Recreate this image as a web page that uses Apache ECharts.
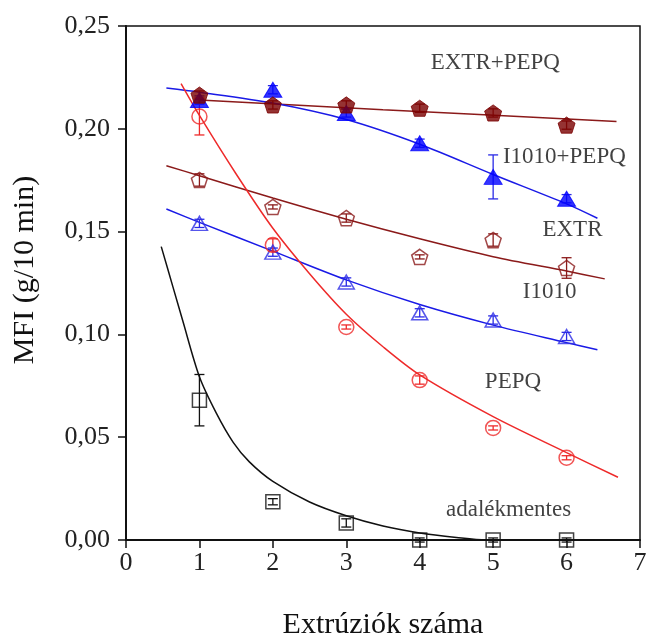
<!DOCTYPE html>
<html>
<head>
<meta charset="utf-8">
<script src="https://cdn.jsdelivr.net/npm/echarts@6/dist/echarts.min.js"></script>
<style>
  html, body { margin: 0; padding: 0; background: #fff; }
  #chart { width: 648px; height: 640px; }
</style>
</head>
<body>
<div id="chart"></div>
<script>
// extrúziók száma
const extrusions = [1, 2, 3, 4, 5, 6];

// mért MFI értékek (g/10 min)
const mfiExtrPepq = [0.2164, 0.2116, 0.2116, 0.2100, 0.2077, 0.2018];
const mfiI1010Pepq = [0.2140, 0.2190, 0.2077, 0.1930, 0.1766, 0.1660];
const mfiExtr = [0.1751, 0.1620, 0.1566, 0.1377, 0.1459, 0.1323];
const mfiI1010 = [0.1540, 0.1400, 0.1255, 0.1105, 0.1070, 0.0990];
const mfiPepq = [0.2060, 0.1435, 0.1036, 0.0778, 0.0545, 0.0400];
const mfiNone = [0.0680, 0.0186, 0.0083, 0.0000, 0.0000, 0.0000];

// hibasávok
const errExtrPepq = [0.002, 0.002, 0.002, 0.002, 0.002, 0.002];
const errI1010Pepq = [0.002, 0.002, 0.002, 0.002, 0.0107, 0.002];
const errExtr = [0.003, 0.001, 0.002, 0.001, 0.003, 0.005];
const errI1010 = [0.002, 0.002, 0.002, 0.002, 0.002, 0.002];
const errPepq = [0.009, 0.003, 0.001, 0.002, 0.001, 0.001];
const errNone = [0.0125, 0.0015, 0.002, 0.001, 0.001, 0.001];

// illesztett görbék (leolvasott pontok)
const fitExtrPepq = [[1, 0.2140], [3.5, 0.2093], [6.68, 0.2035]];
const fitI1010Pepq = [[0.55, 0.2198], [1, 0.2178], [2, 0.2125], [3, 0.2045], [4, 0.1925], [5, 0.1778], [6, 0.1635], [6.42, 0.1565]];
const fitExtr = [[0.55, 0.1820], [1, 0.1772], [2, 0.1663], [3, 0.1560], [4, 0.1465], [5, 0.1378], [6, 0.1308], [6.52, 0.1270]];
const fitI1010 = [[0.55, 0.1610], [1, 0.1545], [2, 0.1405], [3, 0.1265], [4, 0.1145], [5, 0.1045], [6, 0.0960], [6.42, 0.0925]];
const fitPepq = [[0.75, 0.2220], [1, 0.2065], [1.5, 0.1780], [2, 0.1516], [2.5, 0.1295], [3, 0.1098], [3.5, 0.0940], [4, 0.0803], [5, 0.0600], [6, 0.0425], [6.7, 0.0305]];
const fitNone = [[0.48, 0.1427], [0.64, 0.1230], [0.77, 0.1070], [1, 0.0794], [1.23, 0.0617], [1.46, 0.0475], [1.68, 0.0380], [2, 0.0285], [2.5, 0.0185], [3, 0.0118], [3.5, 0.0068], [4, 0.0034], [4.5, 0.0012], [4.9, 0], [6.4, 0]];

// feliratok
const labelNames = ['EXTR+PEPQ', 'I1010+PEPQ', 'EXTR', 'I1010', 'PEPQ', 'adalékmentes'];
const labelX = [5.03, 5.97, 6.08, 5.77, 5.27, 5.21];
const labelY = [0.232, 0.1863, 0.1508, 0.1206, 0.0768, 0.0146];

const SERIF = 'Liberation Serif, Times New Roman, serif';
const PENTAGON = 'path://M50,0 L97.6,34.5 L79.4,90.5 L20.6,90.5 L2.4,34.5 Z';

const chart = echarts.init(document.getElementById('chart'));

function fitSeries(data, color) {
  return {
    type: 'line',
    data: data,
    showSymbol: false,
    smooth: 0.3,
    lineStyle: { color: color, width: 1.5 },
    z: 2,
    silent: true
  };
}

function errSeries(vals, errs, color) {
  return {
    type: 'custom',
    data: extrusions.map((x, i) => [x, vals[i], errs[i]]),
    encode: { x: 0, y: 1 },
    z: 3,
    silent: true,
    renderItem(params, api) {
      const x = api.value(0), y = api.value(1), e = api.value(2);
      const top = api.coord([x, y + e]);
      const bot = api.coord([x, y - e]);
      const w = 5;
      const st = { stroke: color, lineWidth: 1.3 };
      return {
        type: 'group',
        children: [
          { type: 'line', shape: { x1: top[0], y1: top[1], x2: bot[0], y2: bot[1] }, style: st },
          { type: 'line', shape: { x1: top[0] - w, y1: top[1], x2: top[0] + w, y2: top[1] }, style: st },
          { type: 'line', shape: { x1: bot[0] - w, y1: bot[1], x2: bot[0] + w, y2: bot[1] }, style: st }
        ]
      };
    }
  };
}

function markSeries(vals, symbol, size, color, filled) {
  return {
    type: 'scatter',
    data: extrusions.map((x, i) => [x, vals[i]]),
    symbol: symbol,
    symbolSize: size,
    symbolKeepAspect: true,
    itemStyle: filled
      ? { color: color, borderColor: color, borderWidth: 1 }
      : { color: 'rgba(255,255,255,0)', borderColor: color, borderWidth: 1.5 },
    z: 4
  };
}

const option = {
  animation: false,
  backgroundColor: '#fff',
  grid: {
    left: 126, right: 8, top: 26, bottom: 100,
    outerBoundsMode: 'none',
    containLabel: false,
    show: true, borderColor: '#111', borderWidth: 1.5
  },
  xAxis: {
    type: 'value',
    min: 0, max: 7, interval: 1,
    name: 'Extrúziók száma',
    nameLocation: 'middle',
    nameGap: 70,
    nameTextStyle: { fontFamily: SERIF, fontSize: 30, color: '#111' },
    axisLine: { lineStyle: { color: '#111', width: 2 } },
    axisTick: { length: 8, lineStyle: { color: '#111', width: 1.5 } },
    axisLabel: { fontFamily: SERIF, fontSize: 26, color: '#222', margin: 10 },
    splitLine: { show: false }
  },
  yAxis: {
    type: 'value',
    min: 0, max: 0.25, interval: 0.05,
    name: 'MFI (g/10 min)',
    nameLocation: 'middle',
    nameGap: 86,
    nameTextStyle: { fontFamily: SERIF, fontSize: 30, color: '#111', padding: [0, 0, 0, 26] },
    axisLine: { show: true, lineStyle: { color: '#111', width: 2 } },
    axisTick: { show: true, length: 8, lineStyle: { color: '#111', width: 1.5 } },
    axisLabel: {
      fontFamily: SERIF, fontSize: 26, color: '#222', margin: 16,
      formatter: v => v.toFixed(2).replace('.', ',')
    },
    splitLine: { show: false }
  },
  series: [
    fitSeries(fitExtrPepq, '#8b1a1a'),
    fitSeries(fitI1010Pepq, '#1a1ae6'),
    fitSeries(fitExtr, '#8b1a1a'),
    fitSeries(fitI1010, '#1a1ae6'),
    fitSeries(fitPepq, '#ee2a2a'),
    fitSeries(fitNone, '#111'),
    errSeries(mfiExtrPepq, errExtrPepq, '#8b1a1a'),
    errSeries(mfiI1010Pepq, errI1010Pepq, '#2a2ae6'),
    errSeries(mfiExtr, errExtr, '#8b1a1a'),
    errSeries(mfiI1010, errI1010, '#2a2ae6'),
    errSeries(mfiPepq, errPepq, '#ee2a2a'),
    errSeries(mfiNone, errNone, '#111'),
    markSeries(mfiExtr, PENTAGON, 16, '#8b1a1a', false),
    markSeries(mfiI1010, 'triangle', [16, 14], '#2a2ae6', false),
    markSeries(mfiPepq, 'circle', 15, '#ee2a2a', false),
    markSeries(mfiNone, 'rect', 14, '#111', false),
    markSeries(mfiI1010Pepq, 'triangle', [18, 15], '#0000ff', true),
    markSeries(mfiExtrPepq, PENTAGON, 17, '#7a0000', true),
    {
      type: 'scatter',
      data: labelX.map((x, i) => [x, labelY[i], labelNames[i]]),
      symbolSize: 0,
      silent: true,
      z: 5,
      label: {
        show: true,
        position: 'inside',
        formatter: p => p.value[2],
        fontFamily: SERIF,
        fontSize: 23,
        color: '#111'
      }
    }
  ]
};

chart.setOption(option);
</script>
</body>
</html>
